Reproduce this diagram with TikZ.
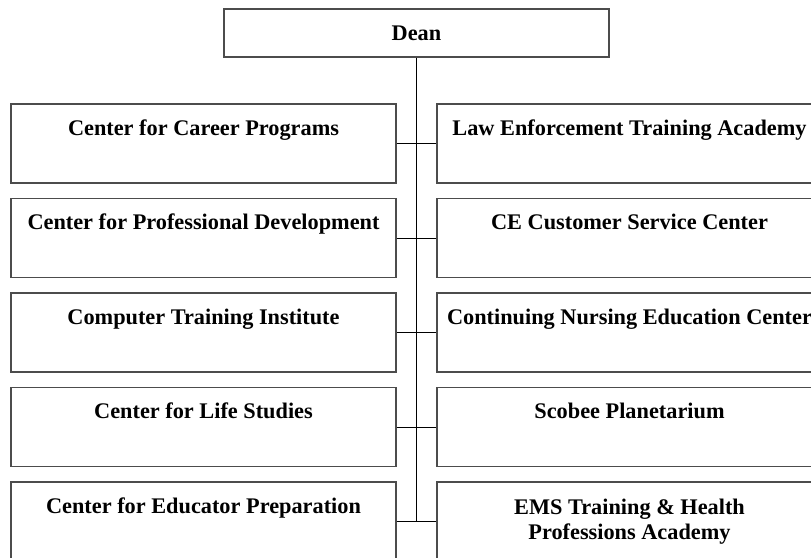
\documentclass[tikz,border=0pt]{standalone}
\usepackage{fontspec}
\setmainfont{Liberation Serif}
\usetikzlibrary{calc}

\begin{document}
\begin{tikzpicture}[x=1pt,y=-1pt,
    unit/.style={draw=black!70,line width=1.1pt,minimum width=385pt,minimum height=79pt,
      inner sep=0pt,align=center,font=\fontsize{22.3}{25}\selectfont\bfseries},
    firstline/.style={text height=31pt,text depth=48pt},
    link/.style={black,line width=0.9pt}]
            \clip (0,0) rectangle (811,557);
            % Dean
            \node[unit,minimum height=48pt] (dean) at (416.5,33) {Dean};

            % left column
            \node[unit,firstline] (career) at (203.5,143.5) {Center for Career Programs};
            \node[unit,firstline] (profdev) at (203.5,238) {Center for Professional Development};
            \node[unit,firstline] (cti) at (203.5,332.5) {Computer Training Institute};
            \node[unit,firstline] (life) at (203.5,427) {Center for Life Studies};
            \node[unit,firstline] (educator) at (203.5,521.5) {Center for Educator Preparation};

            % right column
            \node[unit,firstline] (law) at (629.5,143.5) {Law Enforcement Training Academy};
            \node[unit,firstline] (cesc) at (629.5,238) {CE Customer Service Center};
            \node[unit,firstline] (nursing) at (629.5,332.5) {Continuing Nursing Education Center};
            \node[unit,firstline] (scobee) at (629.5,427) {Scobee Planetarium};
            \node[unit] (ems) at (629.5,521.5) {EMS Training \& Health\\Professions Academy};

            % trunk and branches
            \draw[link] (dean.south) -- (dean.south |- educator.east);
            \draw[link] (career.east) -- (law.west);
            \draw[link] (profdev.east) -- (cesc.west);
            \draw[link] (cti.east) -- (nursing.west);
            \draw[link] (life.east) -- (scobee.west);
            \draw[link] (educator.east) -- (ems.west);
\end{tikzpicture}
\end{document}
